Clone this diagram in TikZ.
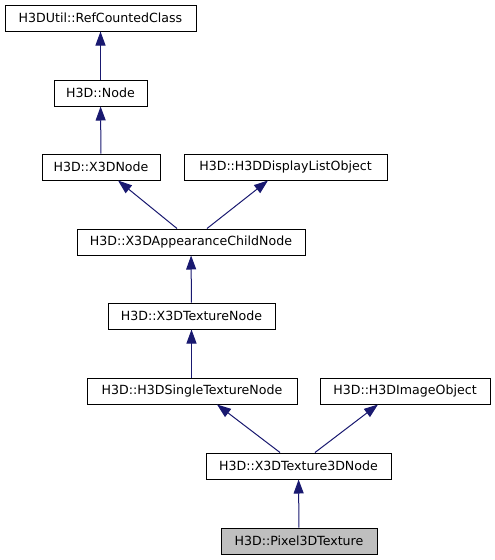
\documentclass[tikz,border=0pt]{standalone}
\usepackage{fontspec}
\setmainfont{DejaVu Sans}
\usetikzlibrary{arrows.meta}
\definecolor{edgeblue}{HTML}{191970}
\definecolor{hlgray}{HTML}{BFBFBF}
\tikzset{
  cls/.style={draw=black, line width=1pt, fill=white, minimum height=26pt, inner sep=0pt, font=\fontsize{12.6}{15}\selectfont},
  hl/.style={cls, fill=hlgray},
  inh/.style={draw=edgeblue, line width=1pt, -{Triangle[length=14pt,width=10pt]}}
}
\begin{document}
\begin{tikzpicture}[x=1pt,y=-1pt]
\useasboundingbox (0,0) rectangle (495,560);
\node[cls, minimum width=191pt] (rcc) at (100.5,18) {H3DUtil::RefCountedClass};
\node[cls, minimum width=93pt] (node) at (100.5,93) {H3D::Node};
\node[cls, minimum width=118pt] (x3d) at (101,167) {H3D::X3DNode};
\node[cls, minimum width=203pt] (dlo) at (285.5,167) {H3D::H3DDisplayListObject};
\node[cls, minimum width=228pt] (app) at (191,242) {H3D::X3DAppearanceChildNode};
\node[cls, minimum width=167pt] (tex) at (191.5,316) {H3D::X3DTextureNode};
\node[cls, minimum width=210pt] (single) at (192,391) {H3D::H3DSingleTextureNode};
\node[cls, minimum width=170pt] (img) at (405,391) {H3D::H3DImageObject};
\node[cls, minimum width=185pt] (t3d) at (298.5,466) {H3D::X3DTexture3DNode};
\node[hl, minimum width=156pt] (pix) at (299,541) {H3D::Pixel3DTexture};

\draw[inh] (node) -- (rcc);
\draw[inh] (x3d) -- (node);
\draw[inh] ([xshift=-14pt]app.north) -- ([xshift=17pt]x3d.south);
\draw[inh] ([xshift=16pt]app.north) -- ([xshift=-17.5pt]dlo.south);
\draw[inh] (tex) -- (app);
\draw[inh] (single.north -| tex.north) -- (tex);
\draw[inh] ([xshift=-18.5pt]t3d.north) -- ([xshift=25pt]single.south);
\draw[inh] ([xshift=16.5pt]t3d.north) -- ([xshift=-27pt]img.south);
\draw[inh] (pix) -- (t3d);
\end{tikzpicture}
\end{document}
